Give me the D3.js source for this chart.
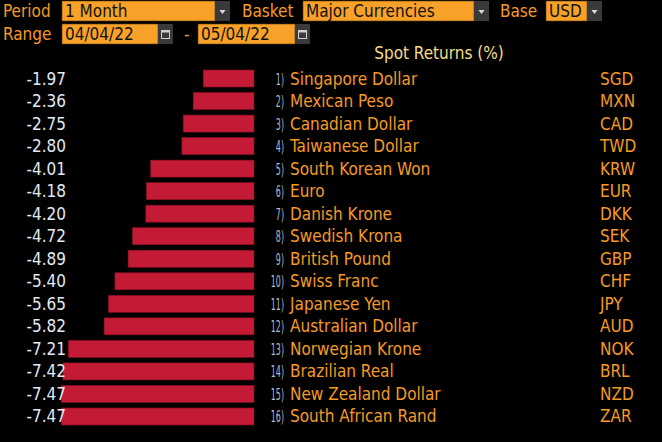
<!DOCTYPE html>
<html>
<head>
<meta charset="utf-8">
<script src="https://cdn.jsdelivr.net/npm/d3@7"></script>
<style>
  html, body { margin: 0; padding: 0; background: #000; }
  svg { display: block; }
  text { font-family: "DejaVu Sans Condensed", "DejaVu Sans", sans-serif; }
</style>
</head>
<body>
<div id="chart"></div>
<script>
// Set dimensions for the chart
const width = 662;
const height = 442;

// Chart data
const names = ["Singapore Dollar", "Mexican Peso", "Canadian Dollar", "Taiwanese Dollar",
  "South Korean Won", "Euro", "Danish Krone", "Swedish Krona", "British Pound",
  "Swiss Franc", "Japanese Yen", "Australian Dollar", "Norwegian Krone",
  "Brazilian Real", "New Zealand Dollar", "South African Rand"];
const codes = ["SGD", "MXN", "CAD", "TWD", "KRW", "EUR", "DKK", "SEK", "GBP",
  "CHF", "JPY", "AUD", "NOK", "BRL", "NZD", "ZAR"];
const returns = [-1.97, -2.36, -2.75, -2.80, -4.01, -4.18, -4.20, -4.72, -4.89,
  -5.40, -5.65, -5.82, -7.21, -7.42, -7.47, -7.47];

const orange = "#f7a128";
const labelOrange = "#f59a23";

const svg = d3.select("#chart")
  .append("svg")
  .attr("width", width)
  .attr("height", height);

svg.append("rect").attr("width", width).attr("height", height).attr("fill", "#000");

/*

  Header controls

*/

// label text in the top bar
const header = svg.append("g").attr("font-size", "17px");

const drawLabel = (x, y, t) => header.append("text")
  .attr("x", x).attr("y", y)
  .attr("fill", labelOrange)
  .text(t);

const drawBox = (x, y, w, t) => {
  header.append("rect")
    .attr("x", x).attr("y", y).attr("width", w).attr("height", 20)
    .attr("fill", orange).attr("stroke", "#5a3a10").attr("stroke-width", 0.6);
  header.append("text")
    .attr("x", x + 3).attr("y", y + 16)
    .attr("fill", "#111")
    .text(t);
}

const drawDrop = (x, y) => {
  header.append("rect")
    .attr("x", x).attr("y", y).attr("width", 15).attr("height", 20)
    .attr("fill", "#3a3a3a");
  header.append("path")
    .attr("d", `M${x + 4.5},${y + 9} h6 l-3,4 z`)
    .attr("fill", "#dddddd");
}

const drawCal = (x, y) => {
  header.append("rect")
    .attr("x", x).attr("y", y).attr("width", 15).attr("height", 20)
    .attr("fill", "#3a3a3a");
  header.append("rect")
    .attr("x", x + 3.5).attr("y", y + 6.5).attr("width", 8).attr("height", 8)
    .attr("fill", "none").attr("stroke", "#cfcfcf").attr("stroke-width", 1);
  header.append("rect")
    .attr("x", x + 3.5).attr("y", y + 6.5).attr("width", 8).attr("height", 2)
    .attr("fill", "#cfcfcf");
}

drawLabel(3, 17, "Period");
drawBox(62, 1, 153, "1 Month");
drawDrop(215, 1);
drawLabel(242, 17, "Basket");
drawBox(303, 1, 171, "Major Currencies");
drawDrop(474, 1);
drawLabel(500, 17, "Base");
drawBox(546, 1, 41, "USD");
drawDrop(587, 1);

drawLabel(3, 40, "Range");
drawBox(62, 24, 96, "04/04/22");
drawCal(158, 24);
drawLabel(184, 40, "-");
drawBox(198, 24, 97, "05/04/22");
drawCal(295, 24);

svg.append("text")
  .attr("x", 439).attr("y", 59)
  .attr("text-anchor", "middle")
  .attr("font-size", "17px")
  .attr("fill", "#f6de86")
  .text("Spot Returns (%)");

/*

  Scales

*/

let xScale = d3.scaleLinear()
  .domain([-8, 0])
  .range([254 - 8 * 25.75, 254]);

let yScale = d3.scaleBand()
  .domain(d3.range(returns.length))
  .range([70, 425])
  .paddingInner(0.245)
  .paddingOuter(0);

const mid = i => yScale(i) + yScale.bandwidth() / 2;

/*

  Bars

*/

svg.selectAll(".bar")
  .data(returns)
  .enter()
  .append("rect")
    .attr("class", "bar")
    .attr("x", d => xScale(d))
    .attr("y", (d, i) => yScale(i))
    .attr("width", d => xScale(0) - xScale(d))
    .attr("height", yScale.bandwidth())
    .attr("fill", "#c31a35")
    .attr("stroke", "#8a1024")
    .attr("stroke-width", 0.6);

// value labels on the left
svg.selectAll(".val")
  .data(returns)
  .enter()
  .append("text")
    .attr("class", "val")
    .attr("x", 66)
    .attr("y", (d, i) => mid(i) + 6)
    .attr("text-anchor", "end")
    .attr("font-size", "17px")
    .attr("fill", "#e2eaf2")
    .text(d => d.toFixed(2));

// rank numbers, squeezed horizontally
svg.selectAll(".rank")
  .data(names)
  .enter()
  .append("text")
    .attr("class", "rank")
    .attr("transform", (d, i) => `translate(284,${mid(i) + 6}) scale(0.55,1)`)
    .attr("text-anchor", "end")
    .attr("font-size", "16px")
    .attr("fill", "#aebbd0")
    .text((d, i) => (i + 1) + ")");

// currency names
svg.selectAll(".name")
  .data(names)
  .enter()
  .append("text")
    .attr("class", "name")
    .attr("x", 290)
    .attr("y", (d, i) => mid(i) + 6)
    .attr("font-size", "17px")
    .attr("fill", labelOrange)
    .text(d => d);

// currency codes
svg.selectAll(".code")
  .data(codes)
  .enter()
  .append("text")
    .attr("class", "code")
    .attr("x", 600)
    .attr("y", (d, i) => mid(i) + 6)
    .attr("font-size", "17px")
    .attr("fill", labelOrange)
    .text(d => d);
</script>
</body>
</html>
